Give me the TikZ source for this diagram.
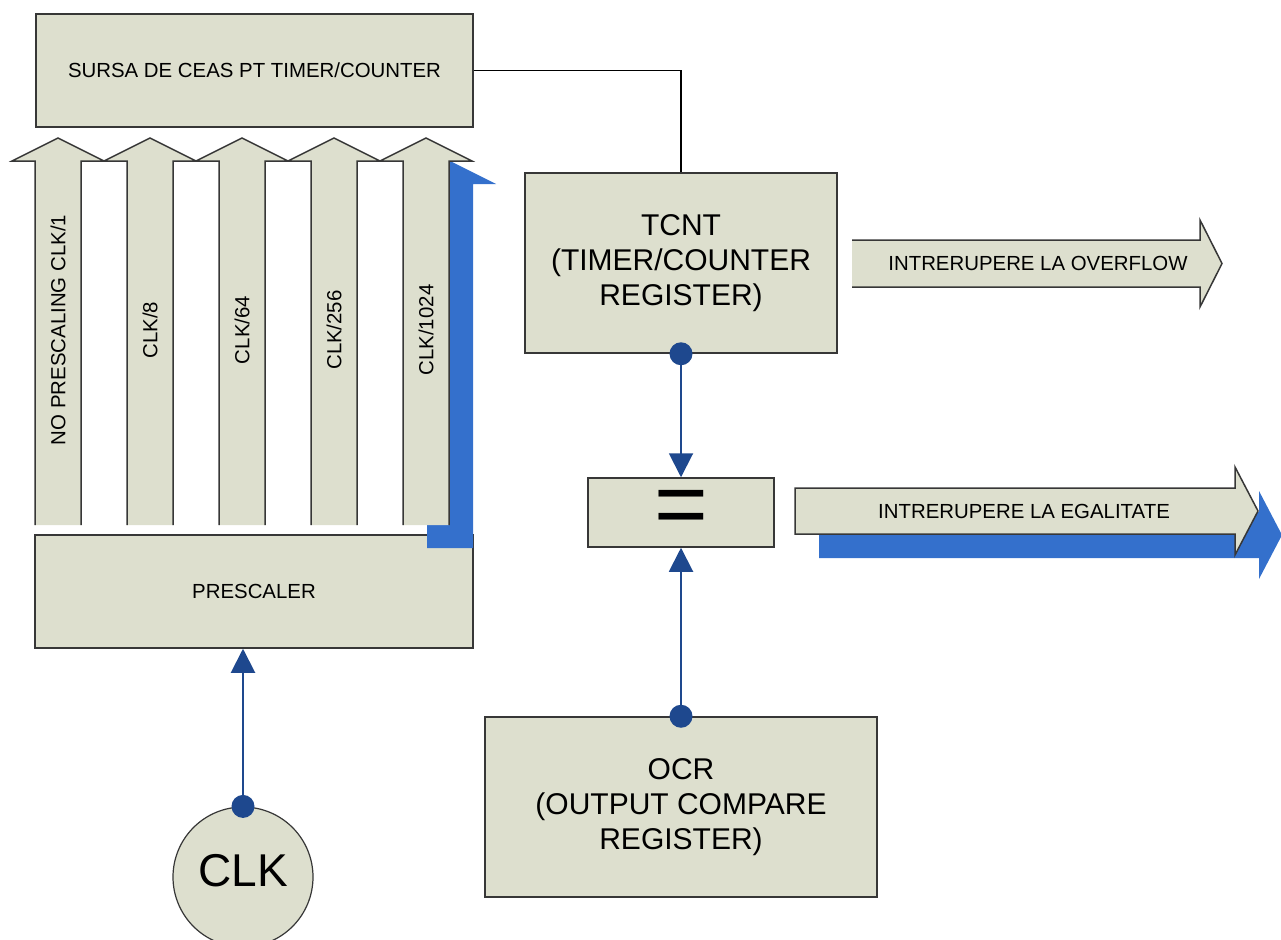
\documentclass[tikz,border=0pt]{standalone}
\usepackage{fontspec}
\setmainfont{Liberation Sans}
\usetikzlibrary{arrows.meta}
\definecolor{boxfill}{RGB}{221,223,206}
\definecolor{umbra}{RGB}{52,112,204}
\definecolor{legblue}{RGB}{30,72,142}
\definecolor{contur}{RGB}{55,55,55}
\tikzset{
  blok/.style={draw=contur, line width=1.5pt, fill=boxfill, inner sep=0pt, align=center},
  mic/.style={font=\fontsize{20.4}{24}\selectfont},
  mare/.style={font=\fontsize{30}{35}\selectfont},
  legatura/.style={draw=legblue, line width=2pt, -{Triangle[length=24pt,width=24pt]}},
  punct/.style={circle, fill=legblue, inner sep=0pt, minimum size=23pt},
}
\begin{document}
\begin{tikzpicture}[x=1pt, y=-1pt]
    \useasboundingbox (0,0) rectangle (1281,939);
    \clip (0,0) rectangle (1281,939);

    % blocuri
    \node[blok, mic, minimum width=437, minimum height=113] (sursa) at (254.5,70.5) {SURSA DE CEAS PT TIMER/COUNTER};
    \node[blok, mic, minimum width=438, minimum height=113] (prescaler) at (254,591.5) {PRESCALER};
    \node[blok, mare, minimum width=312, minimum height=180] (tcnt) at (681,263) {TCNT\\(TIMER/COUNTER\\REGISTER)};
    \node[blok, minimum width=186, minimum height=69, font=\fontsize{92}{92}\selectfont] (egal) at (681,512.5) {=};
    \node[blok, mare, minimum width=392, minimum height=180] (ocr) at (681,807) {OCR\\(OUTPUT COMPARE\\REGISTER)};
    \node[blok, circle, line width=1.2pt, minimum size=140, text depth=14pt, font=\fontsize{46}{46}\selectfont] (clk) at (243,877) {CLK};

    % umbra sagetii CLK/1024
    \fill[umbra, shift={(22,23)}] (405,525) -- (405,161) -- (382,161) -- (428,138) -- (474,161) -- (451,161) -- (451,525) -- cycle;

    % sagetile de divizare
    \foreach \txt [count=\i from 0] in {{NO PRESCALING CLK/1},{CLK/8},{CLK/64},{CLK/256},{CLK/1024}} {
        \pgfmathsetmacro{\cx}{58+92*\i}
        \fill[boxfill] (\cx-23,525) -- (\cx-23,161) -- (\cx-46,161) -- (\cx,138) -- (\cx+46,161) -- (\cx+23,161) -- (\cx+23,525) -- cycle;
        \draw[contur, line width=1.5pt] (\cx-23,525) -- (\cx-23,161) -- (\cx-46,161) -- (\cx,138) -- (\cx+46,161) -- (\cx+23,161) -- (\cx+23,525);
        \node[mic, rotate=90] (div\i) at (\cx,330) {\txt};
    }

    % iesiri
    \draw[contur, line width=1.5pt, fill=boxfill] (852,287) -- (1200,287) -- (1200,307) -- (1222,263.5) -- (1200,220) -- (1200,240) -- (852,240);
    \node[mic] (overflow) at (1038,263) {INTRERUPERE LA OVERFLOW};
    \fill[umbra, shift={(24,24)}] (795,534) -- (1235,534) -- (1235,555) -- (1258,511) -- (1235,467) -- (1235,488) -- (795,488) -- cycle;
    \draw[contur, line width=1.5pt, fill=boxfill] (795,534) -- (1235,534) -- (1235,555) -- (1258,511) -- (1235,467) -- (1235,488) -- (795,488) -- cycle;
    \node[mic] (egalitate) at (1024,511) {INTRERUPERE LA EGALITATE};

    % legaturi
    \draw[black, line width=1.2pt] (sursa.east) -| (tcnt.north);
    \node[punct] (p1) at (tcnt.south) {};
    \node[punct] (p2) at (ocr.north) {};
    \node[punct] (p3) at (clk.north) {};
    \draw[legatura] (p1) -- (egal.north);
    \draw[legatura] (p2) -- (egal.south);
    \draw[legatura] (p3) -- (p3 |- prescaler.south);
\end{tikzpicture}
\end{document}
